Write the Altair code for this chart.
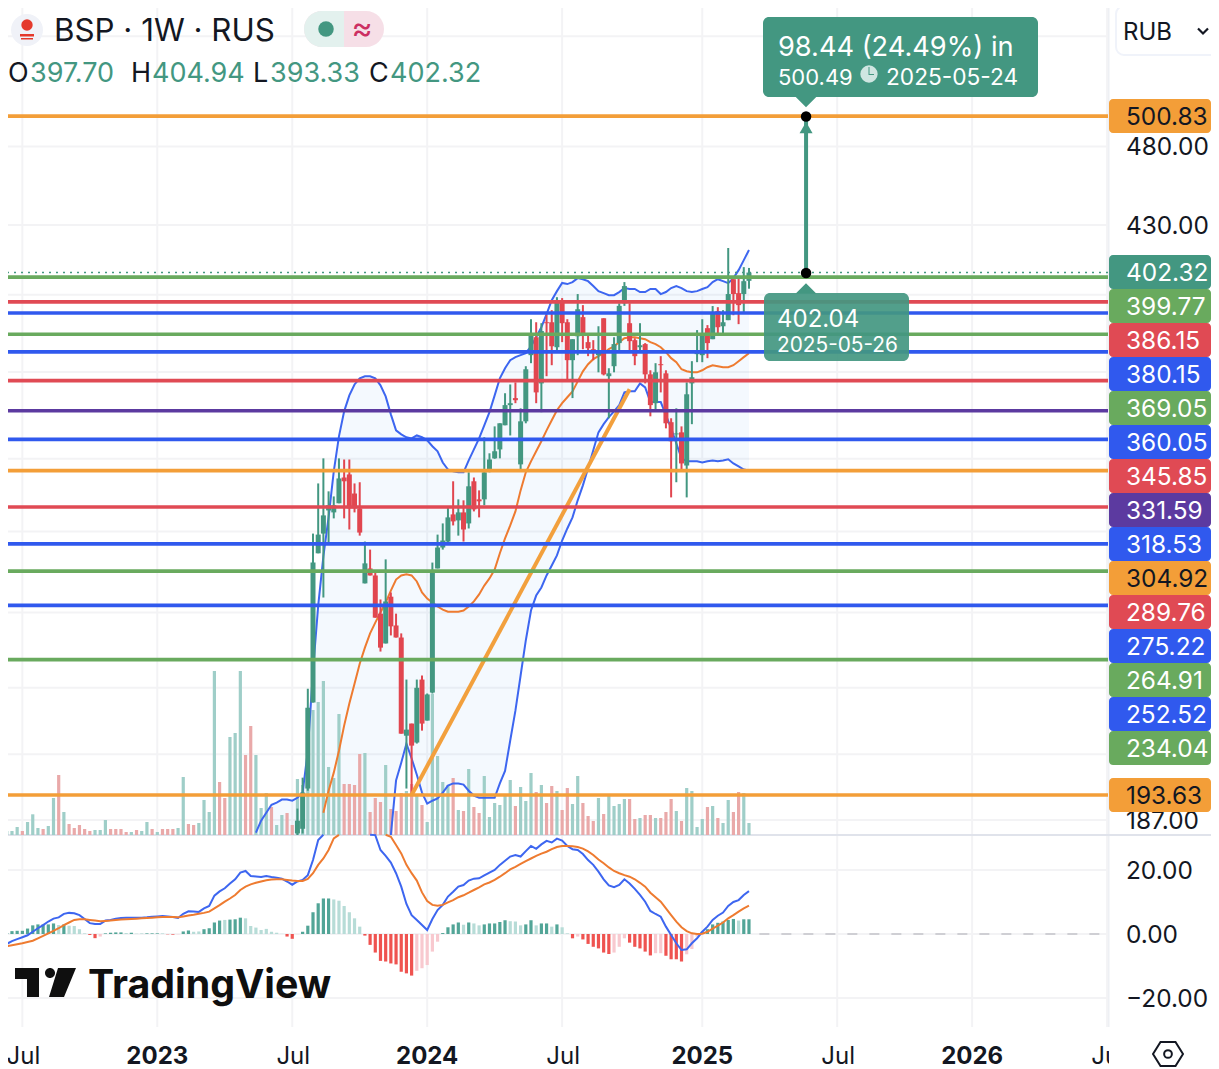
import altair as alt
import pandas as pd

# ---------- time base: weekly bars ----------
FIRST_BAR = pd.Timestamp("2022-06-06")
WEEK = pd.Timedelta(weeks=1)
N_BARS = 145

def bar_date(i):
    return (FIRST_BAR + WEEK * i).strftime("%Y-%m-%d")

# ---------- values ----------
# volume, negative = down week
volume = [
    5.7,4,4,8,-4,13,20.7,7,-6,9,
    37,-60,23,-11,-7,-10,-6,-4,5,5,
    15,-6,-6,-6,-3,3,-5,4,13,-6,
    3,-6,-6,-6,7,58,-11,-10,12,35,
    23,164,-53,-37,98,102,164,-80,-109,80,
    27,42,-28,10,20,-22,-10,56,50,100,
    125,133,154,68,57,121,-51,-51,-50,-81,
    82,-23,-37,-33,70,-26,-24,-42,44,-51,
    41,-30,13,141,79,53,50,-57,25,-24,
    66,-28,-22,59,18,32,30,41,55,-29,
    48,34,62,-43,50,-32,-49,44,-25,-47,
    31,59,-32,-19,-14,37,-21,40,29,31,
    36,-36,-16,17,-20,-20,17,-17,-23,-36,
    24,-14,47,44,8,16,-28,29,-17,12,
    35,-23,-43,42,12,
]

macd_line = [
    -4.0,-3.1,-2.2,-1.6,-1.0,-0.4,0.7,1.8,2.8,3.9,
    4.8,5.2,6.3,6.6,6.5,5.9,4.7,3.4,3.1,3.1,
    4.2,4.4,4.8,5.0,5.1,5.1,5.05,5.1,5.2,5.4,
    5.5,5.6,5.5,5.3,5.0,6.3,7.1,7.0,6.9,8.0,
    8.75,12,13.3,14.3,15.8,17.1,19.2,19.7,18.1,18.0,
    17.8,18.1,17.8,17.6,17.3,16.4,15.4,16.4,16.9,18.4,
    23.1,29.4,34,38,41,43,44,44,43,41,
    39,36,30.9,26.25,24.4,22.3,19,14.8,9.4,5.9,
    4.4,2.8,1.25,4.7,7.5,9.1,11.7,13.2,14.8,15.3,
    16.7,17.3,17.4,18.3,19.2,20,21.6,22.9,24.2,24.7,
    24.2,25.9,27.5,26.6,28,29.1,28.6,29.8,29.2,27.5,
    26.5,26.25,25,23.1,21.6,19.5,17.1,15.2,14.6,15.3,
    17.1,15.8,14.1,12.2,10.1,7.2,6.25,5.4,2.3,-0.3,
    -2.9,-5,-4.8,-2.9,-1.35,0.7,2.3,4.4,5.7,6.7,
    8.75,10,10.6,12.2,13.4,
]
signal_line = [
    -4.2,-3.85,-3.5,-3.2,-2.9,-2.5,-2.1,-1.35,-0.6,0.2,
    1,1.8,2.8,3.6,4.4,4.6,4.6,4.4,4.2,4,
    4.1,4.2,4.4,4.5,4.6,4.7,4.8,4.9,5,5.1,
    5.2,5.3,5.3,5.3,5.2,5.5,5.8,6,6.3,6.6,
    7,8,9,10.1,11.1,12.2,13.75,14.8,15.5,16,
    16.4,16.8,17,17.1,17.1,16.9,16.7,16.6,16.6,17.2,
    19,21.6,23.6,26.25,29.9,32.5,34.5,35.5,36.5,36.5,
    36,35,34,33,32,30.4,27.8,25.2,21.6,19,
    16.7,13,10.3,9.1,8.85,9.1,9.9,10.6,11.5,12.1,
    12.9,13.75,14.6,15.5,16.1,16.9,17.9,19,20.2,21,
    21.9,22.8,23.6,24.4,25.1,25.7,26.5,27.2,27.5,27.5,
    27.4,27.2,26.7,25.8,24.7,23.3,22.1,20.8,19.7,19,
    18.4,17.9,17.1,16,14.8,12.9,11.5,10.1,8,5.9,
    3.85,2.1,0.9,0.2,0,0.1,0.7,1.7,2.6,3.6,
    4.9,5.9,7,8,8.85,
]
hist_values = [
    .3,.3,.9,1,1,1.7,2.7,3,3,3,
    3.3,2.8,3,2.6,2.5,1.5,.2,-.3,-1.3,-.8,
    .2,.4,.5,.5,.3,.4,.1,.2,.2,.2,
    .2,.2,-.1,-.2,-.1,.8,1.1,.7,.8,1.5,
    1.8,3.6,4.2,4.4,4.5,4.6,5.1,4.9,2.5,2,
    1.25,1.6,.7,.4,.05,-.8,-1.5,-.05,.7,2.6,
    6.8,9.6,11.1,11.1,10.8,10.4,8.75,6.8,4.9,2.3,
    -.5,-3.4,-5.8,-8.4,-8.6,-9.2,-9.5,-11.8,-12.3,-13,
    -11.5,-10.7,-9.7,-5.5,-2.4,.3,2.1,3,3.6,2.9,
    3.6,3.3,2.7,3,3.3,3.3,3.75,4.3,4,3.9,
    2.7,3,4.3,2.7,3.3,3.3,2.3,3,2.1,.2,
    -1.35,-.8,-1.7,-3.1,-4,-4.5,-5.8,-6.25,-5.8,-4,
    -1.35,-2.7,-4,-4.5,-5.5,-6.7,-6,-6,-6.8,-7.9,
    -7.9,-8.6,-6.35,-4.7,-.8,.7,1.5,3,3.5,3.9,
    4.4,4.7,4.2,4.6,4.6,
]
hist_tones = list(
    "DDDDDDDDDD"
    "DLDLLLLDDL"
    "DDDDLDLLDD"
    "DLDDLDDLLD"
    "DDDLDDDLLL"
    "LLLLLDDLDD"
    "DDDDLLLLLL"
    "DDDDDDDDDD"
    "LLLLLDDDDL"
    "DLLDDDDDLL"
    "LDDLDDLDLL"
    "DLDDDDDDLL"
    "LDDDDDLLDD"
    "DDLLLDDDDD"
    "DDLDD"
)

# candles, bars 57..144
CANDLE_START = 57
candle_open = [
    183.5,184.7,195.4,220.4,271.6,279.2,288.4,287.6,291.3,302,
    303.3,295.3,289.2,260.4,265.9,263.3,249.6,239.4,255.6,245.5,
    241.4,210.4,214,208.4,227.6,214.9,223.5,265.9,273.8,276.1,
    286.8,284.4,287.6,283.2,300.4,292.9,292.9,304.6,310.2,314.1,
    324.9,334.2,337.5,307.6,326.7,358.4,367.5,344.5,375.3,375.3,
    362.4,386,375.3,355.9,368,378,365,361.4,358.4,377.4,
    348,352.9,364.5,385.4,374.8,366,362.4,364,348.9,335.1,
    353.9,349.4,326.3,320.8,321.7,307.1,344.5,358.9,358.4,372.2,
    366.5,381.2,373.2,376.4,398.6,390.9,390.4,397.70,
]
candle_high = [
    190,198.4,224.7,279.2,299.5,310.2,296.2,294.1,310.2,309.7,
    309.7,299.5,300,276.1,273,265.1,254.6,269.3,257.1,249.6,
    242.8,227.6,214,227.6,228.9,223.2,268.1,278.8,283.2,289.6,
    300.4,292.9,292.5,304.2,302,296.6,319.5,312.4,324.4,325.8,
    339.8,344,345,332.7,352.9,376.9,375.3,374.8,379.1,381.7,
    388.7,388.2,376.9,366.5,390.4,384.4,369.5,366,373.2,377.4,
    351.9,367.5,385.4,397,385.4,367,374.8,364.5,350.9,354.4,
    357.9,350.9,328.1,332.7,324.4,345,355.4,371.2,376.9,373.8,
    383.9,383.3,381.7,416.4,398.6,399.2,405.4,404.94,
]
candle_low = [
    182,183.5,194.8,220.4,271.6,255.3,275.4,285.2,291.3,285.2,
    280.8,287.6,278.4,260.4,263.3,248.2,236.7,239.4,242.1,241.4,
    211,195.4,194,208.1,211.9,214.9,223.2,265.9,273,275,
    282.4,278.4,276.1,281.2,288,285.6,290.5,304.2,310,310.2,
    324.9,320.3,335.1,304.6,325.8,354.4,335.1,330.9,348,353.4,
    360.9,365,346.5,337.5,358.4,361.4,357.9,355.9,349.9,348.4,
    328.1,349.9,359.9,384,360.4,353.4,359.9,344.5,329,331.8,
    340.2,323.5,293.7,300,305,293.7,325.4,354.9,354.9,356.9,
    366.5,369.5,368.6,376.4,379,374.3,380.1,393.33,
]
candle_close = [
    186.8,194.3,218.8,268.1,278.8,286.4,290.5,290.5,301.6,300.4,
    289.2,289.2,279.6,267.8,263.3,248.2,238,253.9,245.2,241.4,
    211,212.2,207.5,225,214,222.9,264.7,273.8,276.5,285.6,
    284,287.6,280.8,298.3,288.8,292.1,304.2,309.7,313.3,325.8,
    334.2,335.1,336.5,326.7,351.4,368.6,340.2,370.7,374.8,362.9,
    386,374.8,355.9,366.5,382.2,369.5,361.9,359.9,360.9,348.9,
    349.4,364,384,394.8,365.5,357.9,363.4,348.9,334.2,349.9,
    353.4,325.8,317.7,321.2,308,339.3,347.5,360.9,369.5,364.5,
    380.6,372.7,375.3,390.4,390.4,384.4,397.5,402.32,
]

# Bollinger band, bars 49..144
BB_START = 49
bb_upper = [
    183.7,186.8,188.9,191,191.6,192.4,192.4,192.1,192.9,194.3,
    206,230.5,252.4,270.4,285.6,304.6,319.9,331.3,338.8,344,
    347,348,348,347,343.6,338.3,329.9,322.6,320.8,319.5,
    319,320.3,319.5,318.1,315.5,313.3,308.4,305.4,304.6,304.2,
    304.2,309.3,314.1,319,324.9,330.9,338.8,347,351.9,355.9,
    357.4,358.4,359.4,362.9,367.5,372.7,379.6,387.1,392,396.5,
    395.9,397,399.2,398.6,397.5,394.8,392,390.9,389.8,389.8,
    391.5,393.7,393.2,393.2,391.5,391.5,393.2,393.2,390.4,391.5,
    393.7,394.8,393.7,392,391.5,392,393.2,394.2,397,398.6,
    397.5,396.4,399.2,403.7,409.4,415.2,
]
LOWER_START = 75
bb_lower = [
    183.1,197.6,202.6,208.1,203.8,199.2,194.3,191.3,192.1,192.7,194.3,
    196.2,196.8,196.8,196.5,194.8,193.5,192.9,192.9,192.9,192.9,
    196.8,200.3,209,217.9,228.9,240.4,250.7,256,258.9,263.3,
    267,270.8,276.5,281.2,285.6,292.5,298.7,305.9,313.7,321.7,
    325.4,328.6,331.3,334.2,340.2,340.7,340.7,344.5,342.6,335.6,
    335.6,335.6,329.5,323.5,316.8,310.2,308.9,308.9,308.9,308.4,
    308.9,309.3,308.9,309.3,309.8,308,306.7,305.4,305,
]
BASIS_START = 62
bb_basis = [
    188.9,194.8,199.8,206,213.4,220.1,226.3,232.7,238,242.8,
    246.5,250,253.5,257.8,261.8,263.3,263.7,263.3,261.1,257.1,
    254.9,253.5,252.1,251,250.3,250.3,250.3,250.7,252.1,253.9,
    256.4,259.6,262.2,265.5,271.6,277.3,282.4,288,296.6,304.2,
    308.9,313.3,317.7,322.6,327.2,331.8,335.1,337.9,340.7,345.5,
    350.4,353.9,356.4,357.9,359.4,361.4,362.9,365,367,367.5,
    367.5,367,366.5,365,364,362.4,359.9,356.9,354.9,351.4,
    350.4,349.9,349.9,350.9,352.4,353.4,352.9,352.4,352.4,353.4,
    355.4,357.4,359.4,
]

# drawn levels
level_prices = [500.83,399.77,386.15,380.15,369.05,360.05,345.85,331.59,318.53,304.92,289.76,275.22,264.91,252.52,234.04,193.63]
BLUE, RED, GREEN, ORANGE, PURPLE, TEAL = "#3059ee", "#e04a54", "#69aa5e", "#f39e38", "#5c3aa0", "#439781"
level_colors = [ORANGE,GREEN,RED,BLUE,GREEN,BLUE,RED,PURPLE,BLUE,ORANGE,RED,BLUE,GREEN,BLUE,GREEN,ORANGE]

badge_labels = ["402.32","399.77","386.15","380.15","369.05","360.05","345.85","331.59","318.53","304.92","289.76","275.22","264.91","252.52","234.04"]
badge_colors = [TEAL,GREEN,RED,BLUE,GREEN,BLUE,RED,PURPLE,BLUE,ORANGE,RED,BLUE,GREEN,BLUE,GREEN]

last_price = 402.32
trend_bars = [79, 121]
trend_prices = [193.63, 341.7]
target_date = "2025-05-26"
target_prices = [402.04, 500.49]

time_ticks = ["2022-07-04","2023-01-02","2023-07-03","2024-01-01","2024-07-01","2025-01-06","2025-07-07","2026-01-05","2026-07-06"]
time_labels = ["Jul","2023","Jul","2024","Jul","2025","Jul","2026","Jul"]
price_grid = [187,205,225,250,280,310,350,390,430,480,560]
price_tick_labels = [480,430,187]
macd_ticks = [20,0,-20]
macd_tick_text = ["20.00","0.00","\u221220.00"]

# ---------- scales ----------
INK = "#131722"
FONT = "Inter"
W, H = 1203, 1061
LABEL = 24.4
DY = 2
def sx(v): return alt.value(v - 8)
def sy(v): return alt.value(v - 8)

x_scale = alt.Scale(
    type="time",
    domain=[(FIRST_BAR + WEEK * 1.233).isoformat(), (FIRST_BAR + WEEK * 233.02).isoformat()],
)
PRICE_MIN, PRICE_MAX = 183.1, 589.2
price_scale = alt.Scale(type="log", domain=[PRICE_MIN, PRICE_MAX], range=[827, -8], clamp=True, nice=False)
vol_scale = alt.Scale(domain=[0, 165], range=[827, 662], nice=False, zero=False)
macd_scale = alt.Scale(domain=[-30, 31], range=[1022, 826.8], clamp=True, nice=False, zero=False)
slot_scale = alt.Scale(domain=[0, 14], range=[264, 740], nice=False, zero=False)

def X(field="date"): return alt.X(f"{field}:T", scale=x_scale, axis=None)
def YP(field): return alt.Y(f"{field}:Q", scale=price_scale, axis=None)
def YV(field): return alt.Y(f"{field}:Q", scale=vol_scale, axis=None)
def YM(field): return alt.Y(f"{field}:Q", scale=macd_scale, axis=None)
def YS(field): return alt.Y(f"{field}:Q", scale=slot_scale, axis=None)
NOC = alt.Color("c:N", scale=None)

blank = alt.Data(values=[{"k": 0}])
def note(text, x, y, size, color=INK, weight=400, align="left"):
    return alt.Chart(blank).mark_text(text=text, fontSize=size, font=FONT, fontWeight=weight,
                                      color=color, align=align, baseline="middle", dy=DY).encode(x=sx(x), y=sy(y))
def box(x0, x1, y0, y1, fill, radius=0, opacity=1.0, stroke=None, **kw):
    args = dict(fill=fill, opacity=opacity, **kw)
    if radius: args["cornerRadius"] = radius
    if stroke: args.update(stroke=stroke, strokeWidth=2)
    return alt.Chart(blank).mark_rect(**args).encode(x=sx(x0), x2=sx(x1), y=sy(y0), y2=sy(y1))
def glyph(path, x, y, size, fill=None, stroke=None, sw=2):
    args = dict(shape=path, size=size, opacity=1)
    if fill: args.update(fill=fill, filled=True, strokeWidth=0)
    if stroke: args.update(stroke=stroke, filled=False, strokeWidth=sw)
    return alt.Chart(blank).mark_point(**args).encode(x=sx(x), y=sy(y))

# ---------- tables ----------
up, dn = "#439781", "#e1464f"
vol_df = pd.DataFrame({
    "date": [bar_date(i) for i in range(N_BARS)],
    "v": [abs(v) for v in volume],
    "base": 0,
    "c": ["#9fcec8" if v >= 0 else "#e9a9a9" for v in volume],
})
hist_colors = []
for v, t in zip(hist_values, hist_tones):
    if v >= 0:
        hist_colors.append("#52a597" if t == "D" else "#b7dcd7")
    else:
        hist_colors.append("#ef5350" if t == "D" else "#f8c9cf")
hist_df = pd.DataFrame({"date": [bar_date(i) for i in range(N_BARS)], "v": hist_values, "base": 0, "c": hist_colors})

candle_df = pd.DataFrame({
    "date": [bar_date(CANDLE_START + i) for i in range(len(candle_open))],
    "o": candle_open, "h": candle_high, "l": candle_low, "cl": candle_close,
})
candle_df["c"] = [up if c >= o else dn for o, c in zip(candle_open, candle_close)]

band_df = pd.DataFrame({
    "date": [bar_date(BB_START + i) for i in range(len(bb_upper))],
    "u": bb_upper,
    "lo": [PRICE_MIN] * (LOWER_START - BB_START) + bb_lower,
})
upper_df = band_df[["date", "u"]]
lower_df = pd.DataFrame({"date": [bar_date(LOWER_START + i) for i in range(len(bb_lower))], "lo": bb_lower})
basis_df = pd.DataFrame({"date": [bar_date(BASIS_START + i) for i in range(len(bb_basis))], "b": bb_basis})

def macd_frame(values):
    """Split a line where it leaves the top of the pane; one point past the edge is kept."""
    rows, seg, out = [], 0, False
    for i, v in enumerate(values):
        if v > 31:
            if not out:
                rows.append((bar_date(i), v, seg))
                seg += 1
                out = True
            last = (i, v)
            continue
        if out:
            rows.append((bar_date(last[0]), last[1], seg))
            out = False
        rows.append((bar_date(i), v, seg))
    return pd.DataFrame(rows, columns=["date", "v", "seg"])

level_df = pd.DataFrame({"p": level_prices, "c": level_colors})
ptick_df = pd.DataFrame({"p": price_grid})
time_df = pd.DataFrame({"date": time_ticks, "t": time_labels})
mtick_df = pd.DataFrame({"m": macd_ticks, "t": macd_tick_text})
ptext_df = pd.DataFrame({"p": price_tick_labels})
ptext_df["t"] = [f"{p:.2f}" for p in price_tick_labels]
badge_df = pd.DataFrame({"slot": list(range(len(badge_labels))), "t": badge_labels, "c": badge_colors})
badge_df["tc"] = ["#131722" if c == ORANGE else "#ffffff" for c in badge_colors]
edge_df = pd.DataFrame({"p": [level_prices[0], level_prices[-1]], "t": [f"{level_prices[0]:.2f}", f"{level_prices[-1]:.2f}"]})
trend_df = pd.DataFrame({"date": [bar_date(i) for i in trend_bars], "p": trend_prices})
target_df = pd.DataFrame({"date": [target_date] * 2, "p": target_prices})
zero_df = pd.DataFrame({"date": [bar_date(146)], "date2": ["2026-07-06"], "m": [0]})

GRID = "#f3f3f5"
layers = []
# grid
layers.append(alt.Chart(ptick_df).mark_rule(color=GRID, strokeWidth=2).encode(y=YP("p"), x=sx(0), x2=sx(1108)))
layers.append(alt.Chart(mtick_df).mark_rule(color=GRID, strokeWidth=2).encode(y=YM("m"), x=sx(0), x2=sx(1108)))
layers.append(alt.Chart(time_df).mark_rule(color=GRID, strokeWidth=2).encode(x=X(), y=sy(8), y2=sy(1027)))
# separators
layers.append(box(1108, 1109.5, 0, 1027, "#eef0f4"))
layers.append(box(0, 1219, 834, 836, "#e0e3eb"))
# band fill
layers.append(alt.Chart(band_df).mark_area(color="#1e88e5", opacity=0.05).encode(x=X(), y=YP("u"), y2="lo:Q"))
# volume
layers.append(alt.Chart(vol_df).mark_rule(strokeWidth=3.2).encode(x=X(), y=YV("v"), y2="base:Q", color=NOC))
# band lines
layers.append(alt.Chart(upper_df).mark_line(color="#3d66f0", strokeWidth=2).encode(x=X(), y=YP("u")))
layers.append(alt.Chart(lower_df).mark_line(color="#3d66f0", strokeWidth=2).encode(x=X(), y=YP("lo")))
layers.append(alt.Chart(basis_df).mark_line(color="#ee7b30", strokeWidth=2).encode(x=X(), y=YP("b")))
# candles
layers.append(alt.Chart(candle_df).mark_rule(strokeWidth=2).encode(x=X(), y=YP("l"), y2="h:Q", color=NOC))
layers.append(alt.Chart(candle_df).mark_rule(strokeWidth=5).encode(x=X(), y=YP("o"), y2="cl:Q", color=NOC))
# trend line
layers.append(alt.Chart(trend_df).mark_line(color="#f2a03d", strokeWidth=4).encode(x=X(), y=YP("p")))
# levels
layers.append(alt.Chart(level_df).mark_rule(strokeWidth=3.6).encode(y=YP("p"), x=sx(0), x2=sx(1108), color=NOC))
layers.append(alt.Chart(pd.DataFrame({"p": [last_price]})).mark_rule(color=TEAL, strokeWidth=1.6, strokeDash=[2, 5]).encode(y=YP("p"), x=sx(0), x2=sx(1108)))
# macd pane
layers.append(alt.Chart(hist_df).mark_rule(strokeWidth=3.2).encode(x=X(), y=YM("v"), y2="base:Q", color=NOC))
layers.append(alt.Chart(macd_frame(macd_line)).mark_line(color="#3d66f0", strokeWidth=2).encode(x=X(), y=YM("v"), detail="seg:N"))
layers.append(alt.Chart(macd_frame(signal_line)).mark_line(color="#ee7b30", strokeWidth=2).encode(x=X(), y=YM("v"), detail="seg:N"))
layers.append(alt.Chart(zero_df).mark_rule(color="#c3c4c9", strokeWidth=1.5, strokeDash=[10, 12]).encode(x=X(), x2="date2:T", y=YM("m")))

# projection
layers.append(alt.Chart(target_df).mark_line(color=TEAL, strokeWidth=4).encode(x=X(), y=YP("p")))
layers.append(alt.Chart(target_df.iloc[[1]]).mark_point(shape="triangle-up", filled=True, fill=TEAL, opacity=1, size=170, yOffset=11, strokeWidth=0).encode(x=X(), y=YP("p")))
layers.append(alt.Chart(target_df).mark_circle(color="#000000", opacity=1, size=110).encode(x=X(), y=YP("p")))
TIP = "M-1,-0.5 L1,-0.5 L0,0.5 Z"
TIP_UP = "M-1,0.5 L1,0.5 L0,-0.5 Z"
layers.append(glyph(TIP, 806, 102, 441, fill=TEAL))
layers.append(box(763, 1038, 17, 97, TEAL, radius=6))
layers.append(note("98.44 (24.49%) in", 778, 46, 27.2, "#ffffff"))
layers.append(note("500.49", 778, 76, 22, "#ffffff"))
layers.append(alt.Chart(blank).mark_circle(color="#cfe6e1", opacity=1, size=300).encode(x=sx(869), y=sy(74)))
layers.append(box(868.5, 869.5, 67, 75, TEAL))
layers.append(box(869, 874, 74, 75, TEAL))
layers.append(note("2025-05-24", 886, 76, 22.7, "#ffffff"))
layers.append(glyph(TIP_UP, 806, 288.5, 441, fill=TEAL))
layers.append(box(764, 909, 293, 361, TEAL, radius=6, opacity=0.92))
layers.append(note("402.04", 777, 318, 24, "#ffffff"))
layers.append(note("2025-05-26", 777, 344, 20.8, "#ffffff"))

# right scale
layers.append(alt.Chart(ptext_df).mark_text(font=FONT, fontSize=LABEL, color=INK, align="left", baseline="middle", dy=DY).encode(y=YP("p"), x=sx(1126), text="t:N"))
layers.append(alt.Chart(mtick_df).mark_text(font=FONT, fontSize=LABEL, color=INK, align="left", baseline="middle", dy=DY).encode(y=YM("m"), x=sx(1126), text="t:N"))
layers.append(alt.Chart(edge_df).mark_rect(height=34, width=102, cornerRadius=4, color=ORANGE).encode(y=YP("p"), x=sx(1160)))
layers.append(alt.Chart(edge_df).mark_text(font=FONT, fontSize=LABEL, color=INK, align="left", baseline="middle", dy=DY).encode(y=YP("p"), x=sx(1126), text="t:N"))
layers.append(alt.Chart(badge_df).mark_rect(height=34, width=102, cornerRadius=4).encode(y=YS("slot"), x=sx(1160), color=NOC))
layers.append(alt.Chart(badge_df).mark_text(font=FONT, fontSize=LABEL, align="left", baseline="middle", dy=DY).encode(y=YS("slot"), x=sx(1126), text="t:N", color=alt.Color("tc:N", scale=None)))

# time labels
layers.append(alt.Chart(time_df[time_df.t == "Jul"]).mark_text(font=FONT, fontSize=24, baseline="middle", color=INK, dy=DY, dx=1).encode(x=X(), y=sy(1055), text="t:N"))
layers.append(alt.Chart(time_df[time_df.t != "Jul"]).mark_text(font=FONT, fontSize=24, fontWeight=700, baseline="middle", color=INK, dy=DY).encode(x=X(), y=sy(1055), text="t:N"))
layers.append(box(1109, 1140, 1035, 1069, "#ffffff"))
layers.append(glyph("M-1,0 L-0.5,-0.8 L0.5,-0.8 L1,0 L0.5,0.8 L-0.5,0.8 Z", 1168, 1054, 900, stroke=INK))
layers.append(alt.Chart(blank).mark_point(shape="circle", filled=False, stroke=INK, strokeWidth=2, size=60, opacity=1).encode(x=sx(1168), y=sy(1054)))

# currency button
layers.append(box(1116, 1218, 6, 55, "#ffffff", radius=8, stroke="#f0f3fa"))
layers.append(note("RUB", 1123, 31, 24))
layers.append(glyph("M-1,-0.5 L0,0.5 L1,-0.5", 1203, 31, 100, stroke=INK, sw=2.2))

# header
layers.append(alt.Chart(blank).mark_circle(color="#f0f2f8", opacity=1, size=1020).encode(x=sx(27), y=sy(30)))
layers.append(alt.Chart(blank).mark_circle(color="#e4392c", opacity=1, size=130).encode(x=sx(27), y=sy(25)))
layers.append(box(20, 34, 34, 36.5, "#e4392c"))
layers.append(box(21, 33, 38, 39.5, "#e4392c"))
layers.append(note("BSP \u00b7 1W \u00b7 RUS", 54, 30, 31.3))
layers.append(box(304, 384, 11, 47, "#f6dfe7", radius=18))
layers.append(box(304, 344, 11, 47, "#e3f1ee", cornerRadiusTopLeft=18, cornerRadiusBottomLeft=18))
layers.append(alt.Chart(blank).mark_circle(color=TEAL, opacity=1, size=240).encode(x=sx(326), y=sy(29)))
layers.append(note("\u2248", 362, 27, 32, "#cc2f62", align="center"))
for txt, xp, col in [("O", 8, INK), ("397.70", 30, TEAL), ("H", 131, INK), ("404.94", 152, TEAL),
                     ("L", 253, INK), ("393.33", 270, TEAL), ("C", 369, INK), ("402.32", 390, TEAL)]:
    layers.append(note(txt, xp, 72, 27, col))

# wordmark
LOGO = ("M-1,-0.475 L-0.213,-0.475 L-0.213,0.475 L-0.607,0.475 L-0.607,-0.115 L-1,-0.115 Z "
        "M0.41,-0.475 L1,-0.475 L0.607,0.475 L0.115,0.475 Z "
        "M-0.016,-0.311 A0.164,0.164 0 1 0 0.312,-0.311 A0.164,0.164 0 1 0 -0.016,-0.311 Z")
layers.append(glyph(LOGO, 45.5, 982.5, 3721, fill="#0f0f0f"))
layers.append(note("TradingView", 88, 984, 39.3, "#0f0f0f", weight=700))

chart = (
    alt.layer(*layers)
    .resolve_scale(y="independent")
    .properties(width=W, height=H, padding=0, background="#ffffff",
                autosize=alt.AutoSizeParams(type="none"))
    .configure_view(stroke=None)
)
chart.save("out.html", embed_options={"renderer": "svg", "actions": False})
